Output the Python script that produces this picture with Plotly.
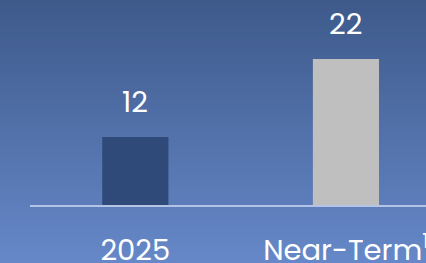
import plotly.graph_objects as go

categories = ["2025", "Near-Term<sup>1</sup>"]
values = [12, 22]
bar_colors = ["#2f4a78", "#bfbfbf"]
value_labels = ["12", "22"]

W, H = 426, 263
FONT = "Poppins, 'Open Sans', sans-serif"

fig = go.Figure()
fig.add_trace(go.Bar(
    x=[0, 1], y=values, marker=dict(color=bar_colors, line=dict(width=0)),
    width=0.314, hoverinfo="skip",
))

for i, (v, t) in enumerate(zip(values, value_labels)):
    fig.add_annotation(x=i, y=v, text=t, showarrow=False, yanchor="bottom",
                       yshift=13, font=dict(family=FONT, size=29, color="white"))

# vertical gradient background (stacked rects, each covering from bottom up to its top edge)
top = (0x3e, 0x5a, 0x8b)
bot = (0x66, 0x88, 0xc8)
n = 132
shapes = []
for k in range(n):
    f = k / (n - 1)
    c = tuple(round(top[j] + (bot[j] - top[j]) * f) for j in range(3))
    y1 = 1 - k / n
    shapes.append(dict(type="rect", xref="paper", yref="paper", x0=0, x1=1,
                       y0=0, y1=y1, line=dict(width=0),
                       fillcolor="rgb(%d,%d,%d)" % c, layer="below"))

fig.update_layout(
    width=W, height=H, margin=dict(l=0, r=0, t=0, b=0, autoexpand=False),
    paper_bgcolor="#5070a8", plot_bgcolor="rgba(0,0,0,0)",
    shapes=shapes, showlegend=False,
    font=dict(family=FONT, color="white"),
    xaxis=dict(domain=[30 / W, 1], range=[-0.5, 1.38], tickmode="array",
               tickvals=[0, 1], ticktext=categories, showgrid=False,
               zeroline=False, showline=True, linecolor="#b4c4e6", linewidth=2,
               ticks="outside", ticklen=0, tickcolor="rgba(0,0,0,0)",
               ticklabelstandoff=18, automargin=False,
               ticklabeloverflow="allow",
               tickfont=dict(family=FONT, size=29, color="white")),
    yaxis=dict(domain=[58 / H, 1], range=[3.28, 29.56], visible=False,
               showgrid=False, zeroline=False, automargin=False),
)

fig.write_html("out.html", config={"displayModeBar": False},
               post_script="document.body.style.margin='0';document.body.style.overflow='hidden';document.documentElement.style.overflow='hidden';")
